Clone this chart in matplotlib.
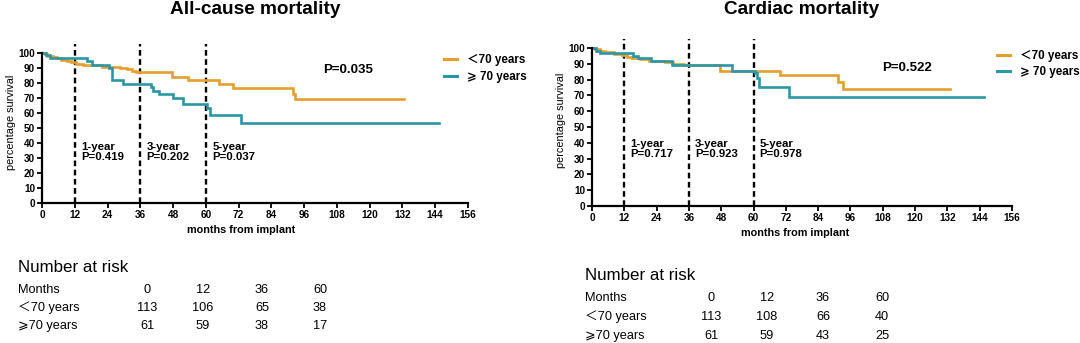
import matplotlib
matplotlib.use("Agg")
import matplotlib.pyplot as plt
from matplotlib.lines import Line2D

plt.rcParams["font.family"] = ["Liberation Sans", "Noto Sans CJK SC", "DejaVu Sans"]

W, H = 1080, 343
C_YOUNG = "#E69E2E"
C_OLD = "#2A97A6"

LBL_YOUNG = "＜70 years"
LBL_OLD = "⩾ 70 years"

# all-cause mortality, Kaplan-Meier steps (months, % surviving)
ac_young_t = [0, 1, 2, 4, 5.5, 7, 9, 10.5, 12.5, 15, 22, 28.5, 31, 33, 34.5,
              47.5, 53.5, 64.8, 69.8, 92.0, 92.8]
ac_young_s = [100, 99.1, 98.2, 97.3, 96.4, 95.5, 94.6, 93.7, 92.8, 91.9, 91.0,
              90.1, 89.2, 88.3, 87.4, 84.3, 82.2, 79.3, 76.9, 72.7, 69.1]
ac_young_end = 132.5
ac_old_t = [0, 1.5, 3, 16.3, 18.2, 24.5, 25.5, 29.8, 39.9, 40.7, 42.8, 48,
            51.7, 60.3, 61.7, 72.8]
ac_old_s = [100, 98.4, 96.7, 94.9, 91.8, 90.2, 81.9, 79.3, 77.6, 75.0, 72.4,
            69.8, 65.8, 63.1, 58.7, 53.1]
ac_old_end = 145.3

# cardiac mortality
cd_young_t = [0, 1, 3, 5, 8, 11, 13, 15, 18, 21, 27, 30, 32.5, 34, 47.6,
              69.9, 91.4, 93.2]
cd_young_s = [100, 99.1, 98.2, 97.3, 96.4, 95.5, 94.6, 93.7, 92.8, 91.9, 91.0,
              90.1, 89.6, 89.0, 85.6, 82.9, 78.7, 73.8]
cd_young_end = 133.0
cd_old_t = [0, 1.5, 3, 15.2, 17, 22, 29.6, 51.9, 60.6, 61.2, 62.1, 73.0]
cd_old_s = [100, 98.4, 96.7, 95.0, 93.4, 91.8, 89.2, 85.6, 84.0, 80.8, 75.5, 68.8]
cd_old_end = 145.7

landmarks = [12, 36, 60]
landmark_names = ["1-year", "3-year", "5-year"]
ac_landmark_p = ["P=0.419", "P=0.202", "P=0.037"]
cd_landmark_p = ["P=0.717", "P=0.923", "P=0.978"]
ac_logrank = "P=0.035"
cd_logrank = "P=0.522"

risk_months = [0, 12, 36, 60]
ac_risk_young = [113, 106, 65, 38]
ac_risk_old = [61, 59, 38, 17]
cd_risk_young = [113, 108, 66, 40]
cd_risk_old = [61, 59, 43, 25]


def fx(x):
    return x / W


def fy(y):
    return 1 - y / H


def panel(rect, title, title_x, curves, lm_p, lm_y, logrank, p_xy, leg_xy,
          xlab_xy):
    x0, y0, x1, y1 = rect  # pixel box: left, bottom(y of 0), right, top
    ax = fig.add_axes([fx(x0), fy(y0), fx(x1) - fx(x0), fy(y1) - fy(y0)])
    for t, s, end, col in curves:
        ax.step(list(t) + [end], list(s) + [s[-1]], where="post",
                color=col, lw=1.9, solid_joinstyle="miter")
    for m, name, p in zip(landmarks, landmark_names, lm_p):
        ax.plot([m, m], [0, 106], color="black", lw=1.7, ls=(0, (2.4, 1.5)),
                clip_on=False, zorder=1)
        ax.text(m + 2.3, lm_y, name + "\n" + p, fontsize=8.2,
                fontweight="bold", va="center", ha="left", linespacing=1.0)
    ax.set_xlim(0, 156)
    ax.set_ylim(0, 108)
    ax.set_xticks(range(0, 157, 12))
    ax.set_yticks(range(0, 101, 10))
    ax.spines["left"].set_bounds(0, 100)
    ax.spines["bottom"].set_bounds(0, 156)
    for side in ["top", "right"]:
        ax.spines[side].set_visible(False)
    for side in ["left", "bottom"]:
        ax.spines[side].set_linewidth(1.6)
    ax.tick_params(width=1.3, length=3.5, labelsize=7.2, pad=1.5)
    for lab in ax.get_xticklabels() + ax.get_yticklabels():
        lab.set_fontweight("bold")
    ax.set_ylabel("percentage survival", fontsize=7.8, labelpad=2)
    ax.patch.set_alpha(0)

    fig.text(fx(title_x), fy(13.5), title, fontsize=13.7,
             fontweight="bold", ha="center", va="baseline")
    fig.text(fx(xlab_xy[0]), fy(xlab_xy[1]), "months from implant",
             fontsize=7.8, fontweight="bold", ha="center", va="center")
    fig.text(fx(p_xy[0]), fy(p_xy[1]), logrank, fontsize=9.5,
             fontweight="bold", ha="left", va="center")

    handles = [Line2D([], [], color=C_YOUNG, lw=2.2),
               Line2D([], [], color=C_OLD, lw=2.2)]
    fig.legend(handles, [LBL_YOUNG, LBL_OLD], loc="center left",
               bbox_to_anchor=(fx(leg_xy[0]), fy(leg_xy[1])), frameon=False,
               prop={"size": 8.4, "weight": "bold"}, handlelength=1.15,
               handletextpad=0.85, labelspacing=0.4, borderpad=0,
               borderaxespad=0)
    return ax


def risk_table(x_head, y_head, cols_x, rows_y, young, old):
    fig.text(fx(x_head), fy(y_head), "Number at risk", fontsize=12.2,
             ha="left", va="center")
    rows = [("Months", risk_months), ("＜70 years", young), ("⩾70 years", old)]
    for (name, vals), y in zip(rows, rows_y):
        fig.text(fx(x_head), fy(y), name, fontsize=9.2, ha="left", va="center")
        for v, x in zip(vals, cols_x):
            fig.text(fx(x), fy(y), str(v), fontsize=9.2, ha="center",
                     va="center")


fig = plt.figure(figsize=(W / 100, H / 100), dpi=100)

panel((42, 203, 468, 41), "All-cause mortality", 255,
      [(ac_young_t, ac_young_s, ac_young_end, C_YOUNG),
       (ac_old_t, ac_old_s, ac_old_end, C_OLD)],
      ac_landmark_p, 34, ac_logrank, (323, 70), (444, 68.5), (241, 230))

panel((592, 206, 1012, 35.4), "Cardiac mortality", 802,
      [(cd_young_t, cd_young_s, cd_young_end, C_YOUNG),
       (cd_old_t, cd_old_s, cd_old_end, C_OLD)],
      cd_landmark_p, 36.4, cd_logrank, (882, 68), (997, 64), (795, 233))

risk_table(18, 268, [147, 203, 262, 320], [290, 308, 326],
           ac_risk_young, ac_risk_old)
risk_table(585, 275, [711, 767, 823, 882], [298, 317, 336],
           cd_risk_young, cd_risk_old)

fig.savefig("out.png", dpi=100)
